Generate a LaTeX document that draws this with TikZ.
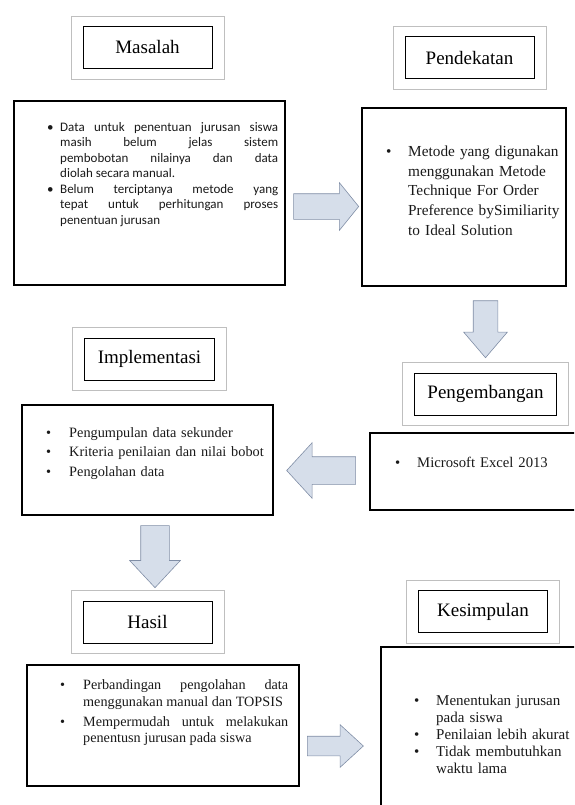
\documentclass[tikz,border=0pt]{standalone}
\usepackage{fontspec}
\setmainfont{Liberation Serif}
\newfontfamily\carlito{Carlito}
\usepackage{enumitem}
\usetikzlibrary{positioning, fit, shapes.arrows}

\definecolor{arrowfill}{RGB}{214,222,234}
\definecolor{arrowline}{RGB}{128,142,166}

\newlist{points}{itemize}{1}
\setlist[points]{label=\textbullet, nosep, align=left, labelindent=0pt, labelsep=0pt}

\tikzset{
  titlebox/.style={draw=black, line width=1pt, minimum width=129pt, minimum height=42pt,
    inner xsep=13pt, font=\fontsize{19}{22}\selectfont},
  titleframe/.style={draw=gray!50, line width=0.6pt, inner xsep=11.5pt, inner ysep=10pt},
  contentbox/.style={draw=black, line width=1.1pt},
  listtext/.style={anchor=north west, inner sep=0pt, text=black!90},
  fatarrow/.style={single arrow, draw=arrowline, fill=arrowfill, line width=0.6pt,
    inner sep=0pt, single arrow head indent=0pt}
}

\begin{document}
\begin{tikzpicture}[x=1pt, y=-1pt]
  \useasboundingbox (0,0) rectangle (574,805);
  \clip (0,0) rectangle (574,805);

  % titles
  \node[titlebox] (masalah) at (147.5,47.5) {Masalah};
  \node[titleframe, fit=(masalah)] (masalahframe) {};
  \node[titlebox] (pendekatan) at (469.5,58) {Pendekatan};
  \node[titleframe, fit=(pendekatan)] (pendekatanframe) {};
  \node[titlebox] (pengembangan) at (485.5,394) {Pengembangan};
  \node[titleframe, fit=(pengembangan)] (pengembanganframe) {};
  \node[titlebox] (implementasi) at (149.5,359) {Implementasi};
  \node[titleframe, fit=(implementasi)] (implementasiframe) {};
  \node[titlebox] (hasil) at (147.5,622) {Hasil};
  \node[titleframe, fit=(hasil)] (hasilframe) {};
  \node[titlebox] (kesimpulan) at (483,611.5) {Kesimpulan};
  \node[titleframe, fit=(kesimpulan)] (kesimpulanframe) {};

  % boxes
  \node[contentbox, minimum width=271pt, minimum height=184pt] (masalahbox) at (149.5,193) {};
  \node[contentbox, minimum width=204pt, minimum height=178pt] (pendekatanbox) at (464,197) {};
  \node[contentbox, minimum width=220pt, minimum height=77pt] (pengembanganbox) at (480,471.5) {};
  \node[contentbox, minimum width=251pt, minimum height=110pt] (implementasibox) at (147.5,460) {};
  \node[contentbox, minimum width=272pt, minimum height=121pt] (hasilbox) at (163,725.5) {};
  \node[contentbox, minimum width=209pt, minimum height=173pt] (kesimpulanbox) at (485.5,733.5) {};

  % texts
  \node[listtext, text width=231pt, align=justify, font=\carlito\fontsize{13}{15.5}\selectfont]
    (masalahlist) at (47,115.5) {%
    \begin{points}[leftmargin=13pt, labelwidth=13pt]
      \item Data untuk penentuan jurusan siswa\linebreak masih belum jelas sistem\linebreak
        pembobotan nilainya dan data\linebreak diolah secara manual.
      \item Belum terciptanya metode yang\linebreak tepat untuk perhitungan proses\linebreak
        penentuan jurusan
    \end{points}};
  \node[listtext, text width=185pt, align=left, font=\fontsize{15.3}{19.7}\selectfont]
    (pendekatanlist) at (386,136.5) {%
    \begin{points}[leftmargin=22pt, labelwidth=22pt]
      \item Metode yang digunakan\\ menggunakan Metode\\ Technique For Order\\
        Preference bySimiliarity\\ to Ideal Solution
    \end{points}};
  \node[listtext, text width=170pt, align=left, font=\fontsize{14.7}{18}\selectfont]
    (pengembanganlist) at (395,449) {%
    \begin{points}[leftmargin=22pt, labelwidth=22pt]
      \item Microsoft Excel 2013
    \end{points}};
  \node[listtext, text width=222pt, align=left, font=\fontsize{14.3}{19.5}\selectfont]
    (implementasilist) at (46,417.5) {%
    \begin{points}[leftmargin=23pt, labelwidth=23pt]
      \item Pengumpulan data sekunder
      \item Kriteria penilaian dan nilai bobot
      \item Pengolahan data
    \end{points}};
  \node[listtext, text width=228pt, align=justify, font=\fontsize{14.2}{16.5}\selectfont]
    (hasillist) at (60,673) {%
    \begin{points}[leftmargin=23pt, labelwidth=23pt, itemsep=3.5pt]
      \item Perbandingan pengolahan data\linebreak menggunakan manual dan TOPSIS
      \item Mempermudah untuk melakukan\linebreak penentusn jurusan pada siswa
    \end{points}};
  \node[listtext, text width=160pt, align=left, font=\fontsize{15}{17}\selectfont]
    (kesimpulanlist) at (414,688.5) {%
    \begin{points}[leftmargin=22pt, labelwidth=22pt]
      \item Menentukan jurusan\\ pada siswa
      \item Penilaian lebih akurat
      \item Tidak membutuhkan\\ waktu lama
    \end{points}};

  % arrows
  \node[fatarrow, minimum height=65pt, inner ysep=12.5pt, single arrow head extend=11pt,
    single arrow tip angle=102] (arr1) at (321,206.5) {};
  \node[fatarrow, minimum height=57pt, inner xsep=12pt, single arrow head extend=9.5pt,
    single arrow tip angle=81, shape border rotate=270] (arr2) at (485.5,322) {};
  \node[fatarrow, minimum height=69pt, inner ysep=13.5pt, single arrow head extend=14pt,
    single arrow tip angle=95, shape border rotate=180] (arr3) at (327.5,470.5) {};
  \node[fatarrow, minimum height=62pt, inner xsep=14pt, single arrow head extend=11pt,
    single arrow tip angle=86, shape border rotate=270] (arr4) at (155,549) {};
  \node[fatarrow, minimum height=56pt, inner ysep=9.5pt, single arrow head extend=11.5pt,
    single arrow tip angle=85] (arr5) at (330,746) {};
\end{tikzpicture}
\end{document}
